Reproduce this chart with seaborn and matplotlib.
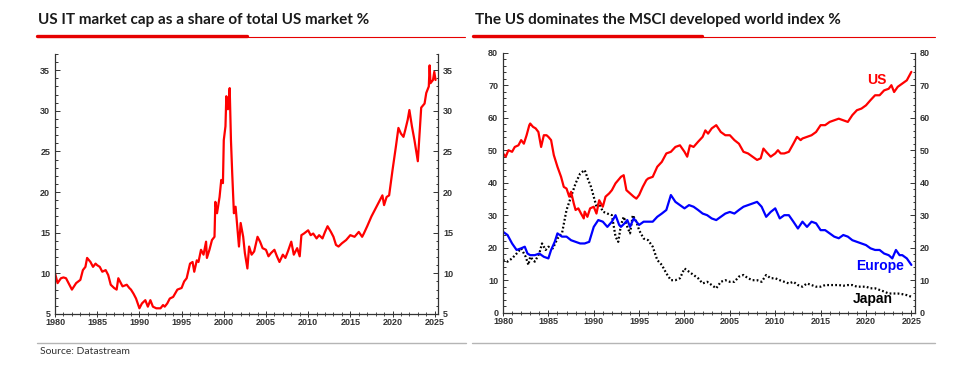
import numpy as np
import pandas as pd
import matplotlib.pyplot as plt
from matplotlib.ticker import MultipleLocator
from matplotlib.lines import Line2D
import seaborn as sns

# === DATA ===
it_years = [1980.0, 1980.3, 1980.7, 1981.0, 1981.3, 1981.6, 1982.0, 1982.5, 1983.0, 1983.3,
            1983.6, 1983.8, 1984.2, 1984.5, 1984.8, 1985.0, 1985.3, 1985.6, 1986.0, 1986.3,
            1986.6, 1987.0, 1987.3, 1987.5, 1987.8, 1988.0, 1988.5, 1988.8, 1989.0, 1989.3,
            1989.6, 1990.0, 1990.3, 1990.7, 1991.0, 1991.3, 1991.6, 1992.0, 1992.5, 1992.8,
            1993.0, 1993.3, 1993.6, 1994.0, 1994.5, 1995.0, 1995.3, 1995.6, 1996.0, 1996.3,
            1996.5, 1996.8, 1997.0, 1997.3, 1997.6, 1997.9, 1998.0, 1998.3, 1998.6, 1998.9,
            1999.0, 1999.2, 1999.5, 1999.7, 1999.9, 2000.0, 2000.2, 2000.3, 2000.5, 2000.7,
            2000.85, 2001.0, 2001.2, 2001.4, 2001.6, 2001.8, 2002.0, 2002.3, 2002.5, 2002.8,
            2003.0, 2003.3, 2003.6, 2004.0, 2004.3, 2004.6, 2005.0, 2005.3, 2005.6, 2006.0,
            2006.3, 2006.6, 2007.0, 2007.3, 2007.6, 2008.0, 2008.3, 2008.7, 2009.0, 2009.2,
            2009.5, 2010.0, 2010.3, 2010.6, 2011.0, 2011.3, 2011.7, 2012.0, 2012.3, 2012.7,
            2013.0, 2013.3, 2013.6, 2014.0, 2014.5, 2015.0, 2015.5, 2016.0, 2016.4, 2016.6,
            2017.0, 2017.5, 2018.0, 2018.5, 2018.8, 2019.0, 2019.3, 2019.6, 2020.0, 2020.4,
            2020.7, 2021.0, 2021.3, 2021.5, 2021.8, 2022.0, 2022.3, 2022.6, 2022.9, 2023.0,
            2023.2, 2023.4, 2023.8, 2024.0, 2024.3, 2024.4, 2024.5, 2024.8, 2024.95, 2025.1]
it_share = [10.0, 8.8, 9.4, 9.5, 9.4, 8.8, 8.0, 8.8, 9.2, 10.4,
            10.8, 11.9, 11.4, 10.8, 11.2, 11.0, 10.8, 10.2, 10.4, 9.8,
            8.6, 8.2, 8.0, 9.4, 8.8, 8.4, 8.6, 8.2, 8.0, 7.5,
            6.9, 5.7, 6.3, 6.7, 5.9, 6.7, 5.9, 5.7, 5.7, 6.1,
            5.9, 6.3, 6.9, 7.1, 8.0, 8.2, 9.0, 9.4, 11.2, 11.4,
            10.2, 11.6, 11.4, 12.9, 12.3, 13.9, 11.9, 12.9, 14.1, 14.5,
            18.8, 17.4, 19.4, 21.5, 21.1, 26.4, 28.1, 31.8, 30.2, 32.8,
            26.4, 22.3, 17.4, 18.2, 15.8, 13.3, 16.2, 14.5, 12.5, 10.6,
            13.3, 12.3, 12.7, 14.5, 13.9, 13.1, 12.9, 12.1, 12.5, 12.9,
            12.1, 11.4, 12.3, 11.9, 12.7, 13.9, 12.3, 13.1, 12.1, 14.7,
            14.9, 15.3, 14.7, 14.9, 14.3, 14.7, 14.3, 15.1, 15.8, 15.1,
            14.5, 13.5, 13.3, 13.7, 14.1, 14.7, 14.5, 15.1, 14.5, 14.9,
            15.8, 17.0, 18.0, 19.0, 19.6, 18.4, 19.4, 19.6, 22.7, 25.6,
            27.9, 27.2, 26.8, 27.6, 28.9, 30.1, 28.1, 26.4, 24.4, 23.8,
            27.2, 30.4, 30.9, 32.2, 33.0, 35.6, 33.4, 33.8, 34.8, 33.8]

us_years = [1980.0, 1980.3, 1980.6, 1981.0, 1981.3, 1981.7, 1982.0, 1982.3, 1982.6, 1982.9,
            1983.0, 1983.3, 1983.6, 1983.9, 1984.2, 1984.5, 1984.8, 1985.0, 1985.3, 1985.6,
            1986.0, 1986.4, 1986.7, 1987.0, 1987.3, 1987.5, 1987.8, 1988.0, 1988.3, 1988.6,
            1988.9, 1989.0, 1989.3, 1989.6, 1990.0, 1990.3, 1990.6, 1991.0, 1991.3, 1991.7,
            1992.0, 1992.4, 1992.7, 1993.0, 1993.3, 1993.6, 1994.0, 1994.4, 1994.7, 1995.0,
            1995.4, 1995.8, 1996.0, 1996.5, 1997.0, 1997.5, 1998.0, 1998.5, 1999.0, 1999.5,
            2000.0, 2000.3, 2000.6, 2001.0, 2001.5, 2002.0, 2002.3, 2002.6, 2003.0, 2003.5,
            2004.0, 2004.5, 2005.0, 2005.5, 2006.0, 2006.5, 2007.0, 2007.5, 2008.0, 2008.4,
            2008.7, 2009.0, 2009.5, 2010.0, 2010.3, 2010.6, 2011.0, 2011.5, 2012.0, 2012.4,
            2012.8, 2013.0, 2013.5, 2014.0, 2014.5, 2015.0, 2015.5, 2016.0, 2016.5, 2017.0,
            2017.5, 2018.0, 2018.5, 2019.0, 2019.5, 2020.0, 2020.5, 2021.0, 2021.5, 2022.0,
            2022.5, 2022.8, 2023.1, 2023.5, 2024.0, 2024.5, 2025.0]
us_weight = [49.0, 48.0, 50.0, 49.5, 51.0, 51.5, 53.1, 52.0, 54.6, 57.7,
             58.2, 57.2, 56.7, 55.6, 51.0, 54.6, 54.6, 54.1, 53.1, 48.5,
             44.9, 41.8, 38.7, 38.2, 35.7, 37.2, 33.6, 31.6, 32.1, 30.5,
             29.0, 31.1, 29.5, 32.1, 32.6, 30.5, 34.6, 32.6, 35.7, 36.7,
             37.7, 39.8, 40.8, 41.8, 42.3, 37.7, 36.7, 35.7, 35.1, 36.2,
             38.7, 40.8, 41.3, 41.8, 44.9, 46.4, 49.0, 49.5, 51.0, 51.5,
             49.5, 48.0, 51.5, 51.0, 52.6, 54.1, 56.1, 55.1, 56.7, 57.7,
             55.6, 54.6, 54.6, 53.1, 52.0, 49.5, 49.0, 48.0, 47.0, 47.5,
             50.5, 49.5, 48.0, 49.0, 50.0, 49.0, 49.0, 49.5, 52.0, 54.1,
             53.1, 53.6, 54.1, 54.6, 55.6, 57.7, 57.7, 58.7, 59.2, 59.7,
             59.2, 58.7, 60.8, 62.3, 62.8, 63.8, 65.4, 66.9, 66.9, 68.4,
             68.9, 70.0, 67.9, 69.5, 70.5, 71.5, 74.1]

eu_years = [1980.0, 1980.5, 1981.0, 1981.5, 1982.0, 1982.4, 1982.7, 1983.0, 1983.5, 1984.0,
            1984.5, 1985.0, 1985.3, 1985.7, 1986.0, 1986.5, 1987.0, 1987.5, 1988.0, 1988.5,
            1989.0, 1989.5, 1990.0, 1990.5, 1991.0, 1991.5, 1992.0, 1992.4, 1992.8, 1993.0,
            1993.4, 1993.7, 1994.0, 1994.4, 1995.0, 1995.5, 1996.0, 1996.5, 1997.0, 1997.5,
            1998.0, 1998.5, 1999.0, 1999.5, 2000.0, 2000.5, 2001.0, 2001.5, 2002.0, 2002.5,
            2003.0, 2003.5, 2004.0, 2004.5, 2005.0, 2005.5, 2006.0, 2006.5, 2007.0, 2007.5,
            2008.0, 2008.5, 2009.0, 2009.5, 2010.0, 2010.5, 2011.0, 2011.5, 2012.0, 2012.5,
            2013.0, 2013.5, 2014.0, 2014.5, 2015.0, 2015.5, 2016.0, 2016.5, 2017.0, 2017.5,
            2018.0, 2018.5, 2019.0, 2019.5, 2020.0, 2020.5, 2021.0, 2021.5, 2022.0, 2022.5,
            2022.9, 2023.3, 2023.7, 2024.0, 2024.5, 2025.0]
eu_weight = [24.9, 23.9, 21.3, 19.3, 19.8, 20.3, 18.2, 17.7, 17.7, 18.2,
             17.2, 16.7, 19.3, 21.8, 24.4, 23.4, 23.4, 22.3, 21.8, 21.3,
             21.3, 21.8, 26.4, 28.5, 28.0, 26.4, 28.0, 30.0, 27.0, 26.4,
             27.5, 28.5, 26.4, 29.0, 27.0, 28.0, 28.0, 28.0, 29.5, 30.5,
             31.6, 36.2, 34.1, 33.1, 32.1, 33.1, 32.6, 31.6, 30.5, 30.0,
             29.0, 28.5, 29.5, 30.5, 31.0, 30.5, 31.6, 32.6, 33.1, 33.6,
             34.1, 32.6, 29.5, 31.0, 32.1, 29.0, 30.0, 30.0, 28.0, 25.9,
             28.0, 26.4, 28.0, 27.5, 25.4, 25.4, 24.4, 23.4, 22.9, 23.9,
             23.4, 22.3, 21.8, 21.3, 20.8, 19.8, 19.3, 19.3, 18.2, 17.7,
             16.7, 19.3, 17.7, 17.7, 16.7, 14.7]

jp_years = [1980.0, 1980.5, 1981.0, 1981.5, 1982.0, 1982.5, 1982.8, 1983.0, 1983.5, 1984.0,
            1984.3, 1984.7, 1985.0, 1985.5, 1986.0, 1986.5, 1987.0, 1987.5, 1988.0, 1988.5,
            1989.0, 1989.4, 1989.7, 1990.0, 1990.3, 1990.6, 1991.0, 1991.5, 1992.0, 1992.4,
            1992.7, 1993.0, 1993.3, 1993.7, 1994.0, 1994.3, 1994.7, 1995.0, 1995.5, 1996.0,
            1996.5, 1997.0, 1997.5, 1998.0, 1998.5, 1999.0, 1999.5, 2000.0, 2000.5, 2001.0,
            2001.5, 2002.0, 2002.5, 2003.0, 2003.5, 2004.0, 2004.5, 2005.0, 2005.5, 2006.0,
            2006.5, 2007.0, 2007.5, 2008.0, 2008.5, 2009.0, 2009.5, 2010.0, 2010.5, 2011.0,
            2011.5, 2012.0, 2012.5, 2013.0, 2013.5, 2014.0, 2014.5, 2015.0, 2015.5, 2016.0,
            2016.5, 2017.0, 2017.5, 2018.0, 2018.5, 2019.0, 2019.5, 2020.0, 2020.5, 2021.0,
            2021.5, 2022.0, 2022.5, 2023.0, 2023.5, 2024.0, 2024.5, 2025.0]
jp_weight = [16.2, 15.7, 16.7, 18.2, 19.8, 17.2, 14.7, 17.2, 15.7, 18.2,
             21.3, 19.3, 20.3, 19.8, 22.8, 24.4, 31.6, 35.7, 39.8, 42.8,
             43.9, 40.8, 38.7, 35.7, 32.6, 33.6, 31.1, 30.5, 30.0, 23.4,
             21.8, 27.0, 29.5, 26.4, 24.4, 30.0, 28.0, 25.4, 22.8, 22.3,
             20.3, 16.2, 14.7, 12.1, 10.0, 10.0, 10.6, 13.6, 12.6, 11.6,
             10.6, 9.0, 9.5, 8.5, 7.5, 9.5, 10.0, 9.5, 9.5, 11.1,
             11.6, 10.6, 10.0, 10.0, 9.5, 11.6, 10.6, 10.6, 10.0, 9.5,
             9.0, 9.5, 8.5, 8.0, 9.0, 8.5, 8.0, 8.0, 8.5, 8.5,
             8.5, 8.5, 8.3, 8.5, 8.5, 8.0, 8.0, 8.0, 7.5, 7.5,
             7.0, 6.5, 5.9, 5.9, 5.9, 5.7, 5.4, 4.9]

year_ticks = [1980, 1985, 1990, 1995, 2000, 2005, 2010, 2015, 2020, 2025]

left_title = "US IT market cap as a share of total US market %"
right_title = "The US dominates the MSCI developed world index %"
source_text = "Source: Datastream"

RED = "#ff0000"
BLUE = "#0000ff"

# === STYLE ===
sns.set_theme(style="ticks")
plt.rcParams["font.family"] = ["Liberation Sans", "DejaVu Sans"]

fig = plt.figure(figsize=(9.59, 3.70), dpi=100)
ax1 = fig.add_axes([0.0574, 0.1514, 0.3994, 0.7027])
ax2 = fig.add_axes([0.5245, 0.1549, 0.4296, 0.7027])

it_df = pd.DataFrame({"year": it_years, "share": it_share})
sns.lineplot(data=it_df, x="year", y="share", ax=ax1, color=RED, lw=1.6,
             estimator=None, sort=False)

us_df = pd.DataFrame({"year": us_years, "weight": us_weight})
eu_df = pd.DataFrame({"year": eu_years, "weight": eu_weight})
jp_df = pd.DataFrame({"year": jp_years, "weight": jp_weight})
sns.lineplot(data=jp_df, x="year", y="weight", ax=ax2, color="black", lw=1.6,
             linestyle=(0, (0.8, 1.0)), estimator=None, sort=False)
sns.lineplot(data=us_df, x="year", y="weight", ax=ax2, color=RED, lw=1.6,
             estimator=None, sort=False)
sns.lineplot(data=eu_df, x="year", y="weight", ax=ax2, color=BLUE, lw=1.6,
             estimator=None, sort=False)

ax1.set_ylim(5, 37)
ax1.yaxis.set_major_locator(MultipleLocator(5))
ax1.yaxis.set_minor_locator(MultipleLocator(1))

ax2.set_ylim(0, 80)
ax2.yaxis.set_major_locator(MultipleLocator(10))
ax2.yaxis.set_minor_locator(MultipleLocator(2))

for ax in (ax1, ax2):
    ax.set_xlabel("")
    ax.set_ylabel("")
    ax.set_xticks(year_ticks)
    ax.set_xticklabels([str(y) for y in year_ticks])
    ax.xaxis.set_minor_locator(MultipleLocator(1))
    ax.set_xlim(1980, 2025.4)
    ax.spines["top"].set_visible(False)
    for s in ("left", "right", "bottom"):
        ax.spines[s].set_visible(True)
        ax.spines[s].set_color("#333333")
        ax.spines[s].set_linewidth(0.9)
    ax.tick_params(axis="y", which="both", direction="in", left=True, right=True,
                   labelleft=True, labelright=True, color="#333333", width=0.7)
    ax.tick_params(axis="y", which="major", length=3.5, pad=3.5)
    ax.tick_params(axis="y", which="minor", length=1.8)
    ax.tick_params(axis="x", which="major", direction="inout", length=4, pad=1.2,
                   color="#333333", width=0.7)
    ax.tick_params(axis="x", which="minor", direction="inout", length=2.5,
                   color="#333333", width=0.6)
    for lab in ax.get_xticklabels() + ax.get_yticklabels():
        lab.set_fontsize(6.5)
        lab.set_fontweight("bold")
        lab.set_color("#333333")

# series labels in the right chart
ax2.text(2021.2, 71.5, "US", color=RED, fontsize=10, fontweight="bold",
         ha="center", va="center")
ax2.text(2021.5, 14.5, "Europe", color=BLUE, fontsize=10, fontweight="bold",
         ha="center", va="center")
ax2.text(2020.7, 4.3, "Japan", color="black", fontsize=10, fontweight="bold",
         ha="center", va="center")

# titles with red underline rule
H, W = 370.0, 959.0
fig.text(38 / W, 1 - 20 / H, left_title, fontsize=11, fontweight="bold",
         family=["Lato", "DejaVu Sans"], color="#1a1a1a", va="center")
fig.text(475 / W, 1 - 20 / H, right_title, fontsize=11, fontweight="bold",
         family=["Lato", "DejaVu Sans"], color="#1a1a1a", va="center")
fig.add_artist(Line2D([37 / W, 465 / W], [1 - 37 / H] * 2, color="#e60000", lw=0.8))
fig.add_artist(Line2D([37 / W, 247 / W], [1 - 36 / H] * 2, color="#e60000", lw=2.4))
fig.add_artist(Line2D([473 / W, 935 / W], [1 - 37 / H] * 2, color="#e60000", lw=0.8))
fig.add_artist(Line2D([473 / W, 702 / W], [1 - 36 / H] * 2, color="#e60000", lw=2.4))

# footer rule and source
fig.add_artist(Line2D([37 / W, 466 / W], [1 - 343 / H] * 2, color="#b5b5b5", lw=1.0))
fig.add_artist(Line2D([472 / W, 935 / W], [1 - 343 / H] * 2, color="#b5b5b5", lw=1.0))
fig.text(40 / W, 1 - 352 / H, source_text, fontsize=7.5, family=["Lato", "DejaVu Sans"],
         color="#333333", va="center")

fig.savefig("out.png", dpi=100)
